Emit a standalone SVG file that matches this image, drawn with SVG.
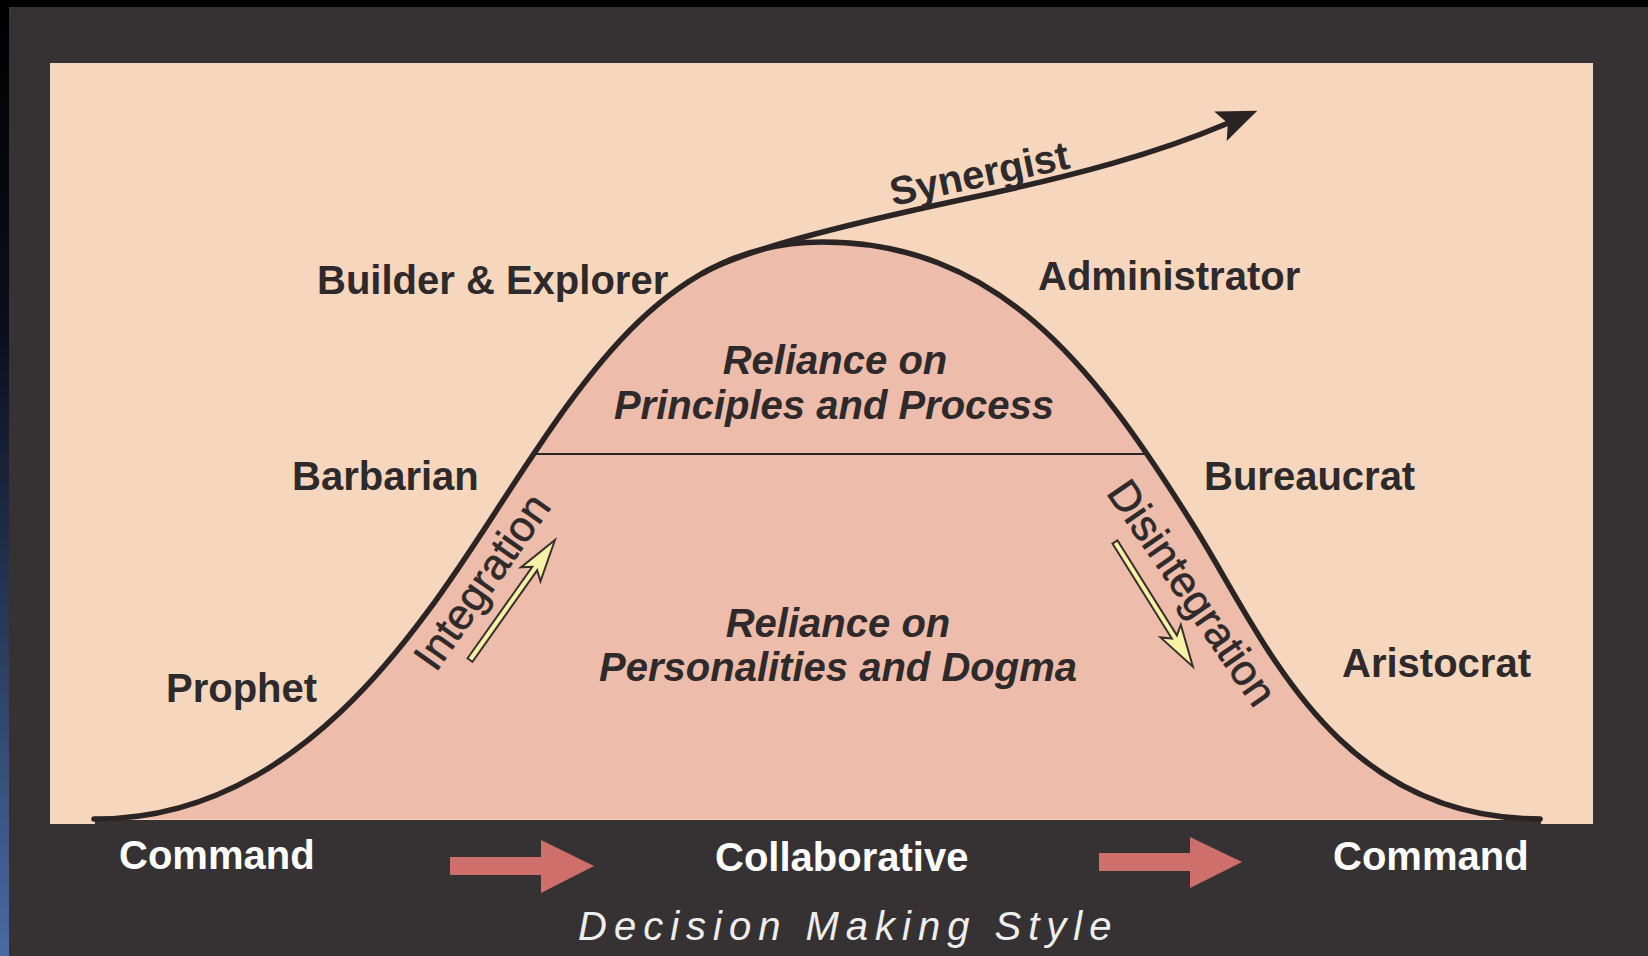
<svg xmlns="http://www.w3.org/2000/svg" width="1648" height="956" viewBox="0 0 1648 956">
<style>
.lbl{font-family:"Liberation Sans",Arial,sans-serif;font-weight:bold;font-size:40px;fill:#2e2a2b}
.reg{font-family:"Liberation Sans",Arial,sans-serif;font-weight:bold;font-style:italic;font-size:40px;fill:#2e2a2b;text-anchor:middle}
.rot{font-family:"Liberation Sans",Arial,sans-serif;font-size:43px;fill:#2e2a2b;text-anchor:middle;stroke:#2e2a2b;stroke-width:0.6}
.wht{font-family:"Liberation Sans",Arial,sans-serif;font-weight:bold;font-size:40px;fill:#ffffff}
.axis{font-family:"Liberation Sans",Arial,sans-serif;font-style:italic;font-size:40px;fill:#eeeeee;letter-spacing:7px}
.curve{fill:none;stroke:#2a2425;stroke-width:5.5;stroke-linecap:round}
.yarrow{fill:#f7f3a6;stroke:#3a3030;stroke-width:2;stroke-linejoin:miter}
.rarrow{fill:#cf6f6c}
</style>
<defs>
<linearGradient id="edge" x1="0" y1="0" x2="0" y2="1">
<stop offset="0" stop-color="#000000"/>
<stop offset="0.35" stop-color="#0a0f1c"/>
<stop offset="1" stop-color="#4a6aa2"/>
</linearGradient>
<path id="yshape" d="M0,-3 L112,-3 L105,-12 L147,0 L105,12 L112,3 L0,3 Z"/>
<marker id="head" markerUnits="userSpaceOnUse" markerWidth="50" markerHeight="40" refX="6" refY="16" orient="auto" viewBox="0 0 50 40">
<path d="M0,0 L40,16 L0,32 L8,16 Z" fill="#2a2425"/>
</marker>
</defs>
<rect x="0" y="0" width="1648" height="956" fill="#363233"/>
<rect x="0" y="0" width="1648" height="7" fill="#000000"/>
<rect x="0" y="0" width="9" height="956" fill="url(#edge)"/>
<rect x="50" y="63" width="1543" height="761" fill="#f6d6bc"/>
<path d="M97,819 C300,819 420,628 500,505 C590,367 672,242 822,242 C995,242 1090,360 1190,520 C1262,632 1330,819 1540,819 Z" fill="#eebcaa"/>
<rect x="95" y="820" width="1446" height="8" fill="#363233"/>
<line x1="531" y1="454" x2="1148" y2="454" stroke="#2a2425" stroke-width="2"/>
<g id="connectors">
<path class="curve" d="M94,819 L97,819 C300,819 420,628 500,505 C590,367 672,242 822,242 C995,242 1090,360 1190,520 C1262,632 1330,819 1540,819"/>
<path class="curve" d="M703,273 C743,251 830,228 960,200 C1080,175 1160,152 1226,124" marker-end="url(#head)"/>
<use href="#yshape" class="yarrow" transform="translate(470,660) rotate(-54.7)"/>
<use href="#yshape" class="yarrow" transform="translate(1115,542) rotate(58)"/>
<path class="rarrow" d="M450,857 L541,857 L541,840 L594,866 L541,893 L541,875 L450,875 Z"/>
<path class="rarrow" d="M1099,853 L1190,853 L1190,837 L1242,862 L1190,888 L1190,871 L1099,871 Z"/>
</g>
<g id="node-builder"><text class="lbl" x="317" y="294">Builder &amp; Explorer</text></g>
<g id="node-administrator"><text class="lbl" x="1038" y="290">Administrator</text></g>
<g id="node-barbarian"><text class="lbl" x="292" y="490">Barbarian</text></g>
<g id="node-bureaucrat"><text class="lbl" x="1204" y="490">Bureaucrat</text></g>
<g id="node-prophet"><text class="lbl" x="166" y="702">Prophet</text></g>
<g id="node-aristocrat"><text class="lbl" x="1342" y="677">Aristocrat</text></g>
<g id="node-synergist"><text class="lbl" transform="translate(893,206) rotate(-12)">Synergist</text></g>
<g id="node-principles"><text class="reg" x="835" y="374">Reliance on</text><text class="reg" x="834" y="419">Principles and Process</text></g>
<g id="node-personalities"><text class="reg" x="838" y="637">Reliance on</text><text class="reg" x="838" y="681">Personalities and Dogma</text></g>
<g id="node-integration"><text class="rot" transform="translate(494,590) rotate(-55)">Integration</text></g>
<g id="node-disintegration"><text class="rot" font-size="42" transform="translate(1180,601) rotate(55.5)">Disintegration</text></g>
<g id="node-command-left"><text class="wht" x="119" y="869">Command</text></g>
<g id="node-collaborative"><text class="wht" x="715" y="871">Collaborative</text></g>
<g id="node-command-right"><text class="wht" x="1333" y="870">Command</text></g>
<g id="node-axis"><text class="axis" x="578" y="940">Decision Making Style</text></g>
</svg>
